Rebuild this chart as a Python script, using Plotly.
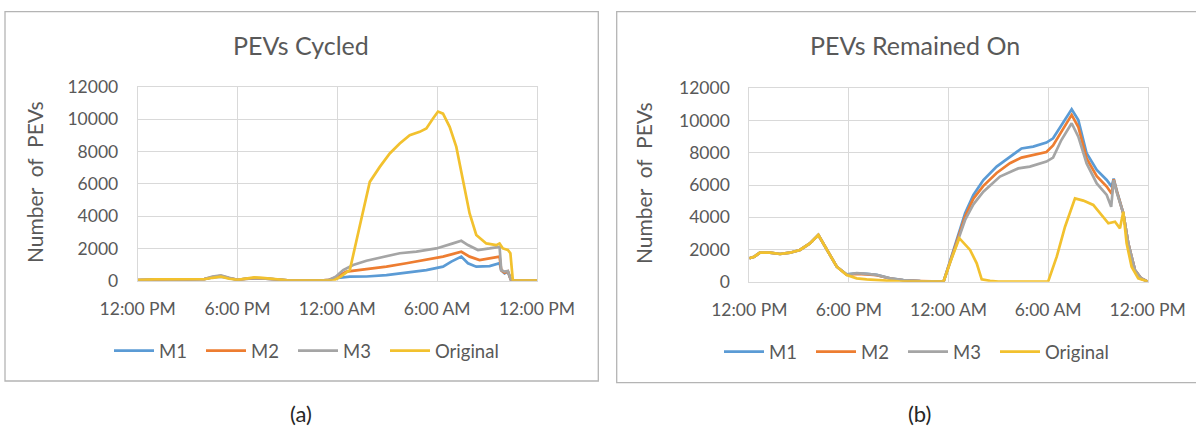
import plotly.graph_objects as go

# Hours after 12:00 PM on day one (0 = 12:00 PM, 24 = 12:00 PM next day)
tick_hours = [0, 6, 12, 18, 24]
tick_text = ["12:00 PM", "6:00 PM", "12:00 AM", "6:00 AM", "12:00 PM"]
y_ticks = [0, 2000, 4000, 6000, 8000, 10000, 12000]
y_tick_text = ["0", "2000", "4000", "6000", "8000", "10000", "12000"]

series_names = ["M1", "M2", "M3", "Original"]
series_colors = ["#5B9BD5", "#ED7D31", "#A5A5A5", "#F2C12E"]

# ---- (a) PEVs Cycled ----
a_m1_h = [0, 1, 2, 3, 4, 4.5, 5, 5.5, 6, 6.5, 7, 7.5, 8, 8.5, 9, 10, 11, 11.5, 11.9, 12.4, 12.75, 13.75,
          14.95, 16.15, 17.35, 18.35, 18.85, 19.45, 19.85, 20.35, 21.15, 21.75, 21.85, 22.05, 22.25, 22.45, 23, 24]
a_m1_v = [30, 70, 70, 70, 90, 200, 250, 150, 50, 110, 150, 140, 90, 40, 20, 0, 0, 40, 150, 230, 250, 260,
          350, 500, 660, 870, 1180, 1490, 1080, 870, 900, 1080, 640, 450, 560, 0, 0, 0]

a_m2_h = [0, 1, 2, 3, 4, 4.5, 5, 5.5, 6, 6.5, 7, 7.5, 8, 8.5, 9, 10, 11, 11.5, 11.9, 12.55, 13.75,
          14.95, 16.15, 17.35, 18.35, 19.45, 19.95, 20.55, 21.15, 21.75, 21.85, 22.05, 22.25, 22.45, 23, 24]
a_m2_v = [30, 75, 75, 75, 95, 230, 300, 170, 55, 115, 160, 150, 95, 45, 20, 0, 0, 50, 200, 560, 720,
          870, 1080, 1280, 1490, 1790, 1490, 1280, 1390, 1490, 650, 500, 580, 0, 0, 0]

a_m3_h = [0, 1, 2, 3, 4, 4.5, 5, 5.5, 6, 6.5, 7, 7.5, 8, 8.5, 9, 10, 11, 11.5, 11.9, 12.35, 12.95, 13.75,
          14.75, 15.75, 16.75, 17.95, 18.95, 19.45, 19.85, 20.45, 21.15, 21.75, 21.85, 22.05, 22.25, 22.45, 23, 24]
a_m3_v = [30, 80, 80, 80, 100, 250, 330, 180, 60, 120, 160, 150, 100, 50, 20, 0, 0, 50, 250, 660, 970, 1240,
          1480, 1700, 1800, 2000, 2310, 2470, 2210, 1900, 2000, 2100, 660, 560, 600, 0, 0, 0]

a_orig_h = [0, 0.5, 1, 2, 3, 4, 4.5, 5, 5.5, 6, 6.5, 7, 7.5, 8, 8.5, 9, 10, 11, 11.75, 12.2, 12.75, 13.35,
            13.95, 14.55, 15.15, 15.75, 16.35, 16.95, 17.35, 17.75, 18.05, 18.35, 18.75, 19.15, 19.55, 19.95,
            20.35, 20.95, 21.55, 21.75, 21.95, 22.25, 22.4, 22.55, 23, 24]
a_orig_v = [30, 60, 80, 80, 80, 90, 180, 250, 120, 50, 130, 200, 180, 120, 60, 20, 0, 0, 0, 250, 660, 3400,
            6120, 7050, 7880, 8500, 9010, 9220, 9430, 10050, 10480, 10350, 9530, 8290, 6230, 4170,
            2830, 2310, 2200, 2310, 2000, 1900, 1700, 0, 0, 0]

# ---- (b) PEVs Remained On ----
b_m1_h = [0, 0.3, 0.64, 1.24, 1.85, 2.45, 3.05, 3.65, 4.16, 4.66, 5.27, 5.87, 6.47, 7.07, 7.67, 8.48, 9.28,
          10.3, 11, 11.7, 12.1, 12.6, 13.0, 13.5, 14.1, 14.9, 15.7, 16.4, 17.1, 17.9, 18.3, 18.9, 19.42,
          19.82, 20.32, 20.93, 21.53, 21.83, 21.95, 22.15, 22.53, 22.83, 23.23, 23.6, 24]
b_m1_v = [1450, 1550, 1800, 1800, 1720, 1800, 1970, 2380, 2900, 1970, 930, 450, 520, 480, 420, 210, 100,
          40, 0, 0, 1300, 2900, 4250, 5380, 6310, 7140, 7760, 8270, 8380, 8630, 8900, 9830, 10700,
          10030, 7970, 6930, 6310, 5900, 6400, 5600, 4240, 2380, 730, 210, 0]

b_m2_h = [0, 0.3, 0.64, 1.24, 1.85, 2.45, 3.05, 3.65, 4.16, 4.66, 5.27, 5.87, 6.47, 7.07, 7.67, 8.48, 9.28,
          10.3, 11, 11.7, 12.1, 12.6, 13.0, 13.5, 14.1, 14.9, 15.7, 16.4, 17.1, 17.9, 18.3, 18.9, 19.42,
          19.82, 20.32, 20.93, 21.53, 21.83, 21.95, 22.15, 22.53, 22.83, 23.23, 23.6, 24]
b_m2_v = [1450, 1550, 1800, 1800, 1720, 1800, 1970, 2380, 2900, 1970, 930, 430, 480, 450, 400, 200, 90,
          40, 0, 0, 1250, 2800, 4050, 5150, 5950, 6750, 7350, 7700, 7850, 8050, 8450, 9450, 10350,
          9600, 7650, 6550, 5900, 5450, 6350, 5550, 4240, 2380, 730, 210, 0]

b_m3_h = [0, 0.3, 0.64, 1.24, 1.85, 2.45, 3.05, 3.65, 4.16, 4.66, 5.27, 5.87, 6.47, 7.07, 7.67, 8.48, 9.28,
          10.3, 11, 11.7, 12.1, 12.6, 13.0, 13.5, 14.1, 15.1, 16.2, 16.9, 17.9, 18.3, 18.8, 19.42,
          19.82, 20.32, 20.93, 21.53, 21.8, 21.95, 22.15, 22.53, 22.83, 23.23, 23.6, 24]
b_m3_v = [1450, 1550, 1800, 1800, 1720, 1800, 1970, 2380, 2900, 1970, 930, 440, 530, 490, 420, 210, 100,
          40, 0, 0, 1200, 2700, 3830, 4800, 5580, 6520, 7030, 7140, 7450, 7700, 8790, 9830,
          9000, 7340, 6100, 5380, 4650, 6300, 5500, 4240, 2380, 730, 210, 0]

b_orig_h = [0, 0.3, 0.64, 1.24, 1.85, 2.45, 3.05, 3.65, 4.16, 4.66, 5.27, 5.87, 6.47, 7.07, 8, 9, 10, 11,
            11.7, 12.1, 12.65, 13.3, 13.7, 14.0, 14.5, 15, 16, 17, 18.0, 18.52, 19.02, 19.62, 20.12,
            20.72, 21.33, 21.63, 22.03, 22.33, 22.53, 22.73, 23.03, 23.43, 23.9, 24]
b_orig_v = [1450, 1550, 1800, 1800, 1720, 1800, 1970, 2380, 2900, 1970, 930, 420, 210, 140, 60, 20, 0, 0,
            0, 1200, 2700, 1970, 1140, 150, 50, 0, 0, 0, 0, 1550, 3410, 5170, 5030,
            4760, 4030, 3620, 3720, 3310, 4340, 2380, 930, 210, 50, 0]

panel_a = [(a_m1_h, a_m1_v), (a_m2_h, a_m2_v), (a_m3_h, a_m3_v), (a_orig_h, a_orig_v)]
panel_b = [(b_m1_h, b_m1_v), (b_m2_h, b_m2_v), (b_m3_h, b_m3_v), (b_orig_h, b_orig_v)]

W, H = 1196, 430
FONT = "Lato"
TEXT = "#595959"
GRID = "#D9D9D9"

# legend entry widths: short names share one width, the last entry keeps its full text
entry_widths = [37, 37, 37, 80]

fig = go.Figure()
for name, color, lw, (hx, vy) in zip(series_names, series_colors, entry_widths, panel_a):
    fig.add_trace(go.Scatter(x=hx, y=vy, name=name, mode="lines",
                             line=dict(color=color, width=2.7), xaxis="x", yaxis="y",
                             legend="legend", legendwidth=lw))
for name, color, lw, (hx, vy) in zip(series_names, series_colors, entry_widths, panel_b):
    fig.add_trace(go.Scatter(x=hx, y=vy, name=name, mode="lines",
                             line=dict(color=color, width=2.7), xaxis="x2", yaxis="y2",
                             legend="legend2", legendwidth=lw))


def px_x(p):
    return p / W


def px_y(p):
    return 1 - p / H


xaxis_style = dict(range=[0, 24], tickvals=tick_hours, ticktext=tick_text, showgrid=True,
                   gridcolor=GRID, gridwidth=1, showline=True, linecolor=GRID, mirror=True,
                   zeroline=False, ticks="", ticklabelstandoff=12, automargin=False,
                   tickfont=dict(family=FONT, size=17.5, color=TEXT), fixedrange=True)
yaxis_style = dict(range=[0, 12000], tickvals=y_ticks, ticktext=y_tick_text, showgrid=True,
                   gridcolor=GRID, gridwidth=1, showline=True, linecolor=GRID, mirror=True,
                   zeroline=False, ticks="", automargin=False, ticklabelstandoff=15,
                   tickfont=dict(family=FONT, size=17.5, color=TEXT), fixedrange=True)

legend_style = dict(orientation="h", xanchor="left", yanchor="middle",
                    font=dict(family=FONT, size=18.5, color=TEXT), bgcolor="rgba(0,0,0,0)",
                    itemwidth=40, tracegroupgap=0)

fig.update_layout(
    width=W, height=H, autosize=False,
    margin=dict(l=0, r=0, t=0, b=0, pad=0, autoexpand=False),
    paper_bgcolor="white", plot_bgcolor="white",
    xaxis=dict(domain=[px_x(137.7), px_x(537)], anchor="y", **xaxis_style),
    yaxis=dict(domain=[px_y(280.7), px_y(87)], anchor="x", **yaxis_style),
    xaxis2=dict(domain=[px_x(749.3), px_x(1147.7)], anchor="y2", **xaxis_style),
    yaxis2=dict(domain=[px_y(281.7), px_y(88.3)], anchor="x2", **yaxis_style),
    legend=dict(x=px_x(109), y=px_y(351), **legend_style),
    legend2=dict(x=px_x(719), y=px_y(352), **legend_style),
    showlegend=True,
)

# Chart frames
fig.add_shape(type="rect", xref="paper", yref="paper", x0=px_x(5), x1=px_x(598.3),
              y0=px_y(381), y1=px_y(11.7), line=dict(color="#B4B4B4", width=1.3),
              fillcolor="rgba(0,0,0,0)", layer="below")
fig.add_shape(type="rect", xref="paper", yref="paper", x0=px_x(616.7), x1=px_x(1215),
              y0=px_y(382.7), y1=px_y(11.7), line=dict(color="#B4B4B4", width=1.3),
              fillcolor="rgba(0,0,0,0)", layer="below")

# Titles, axis titles and panel captions
texts = [
    dict(text="PEVs Cycled", x=301, y=45, size=25, color=TEXT, angle=0),
    dict(text="PEVs Remained On", x=915, y=45, size=25, color=TEXT, angle=0),
    dict(text="Number\u00a0 of\u00a0 PEVs", x=35, y=182, size=21, color=TEXT, angle=-90),
    dict(text="Number\u00a0 of\u00a0 PEVs", x=643, y=183, size=21, color=TEXT, angle=-90),
    dict(text="(a)", x=301, y=413, size=22, color="#262626", angle=0),
    dict(text="(b)", x=919, y=413, size=22, color="#262626", angle=0),
]
for t in texts:
    fig.add_annotation(text=t["text"], xref="paper", yref="paper", x=px_x(t["x"]), y=px_y(t["y"]),
                       xanchor="center", yanchor="middle", showarrow=False, textangle=t["angle"],
                       font=dict(family=FONT, size=t["size"], color=t["color"]))

fig.write_html("out.html")
